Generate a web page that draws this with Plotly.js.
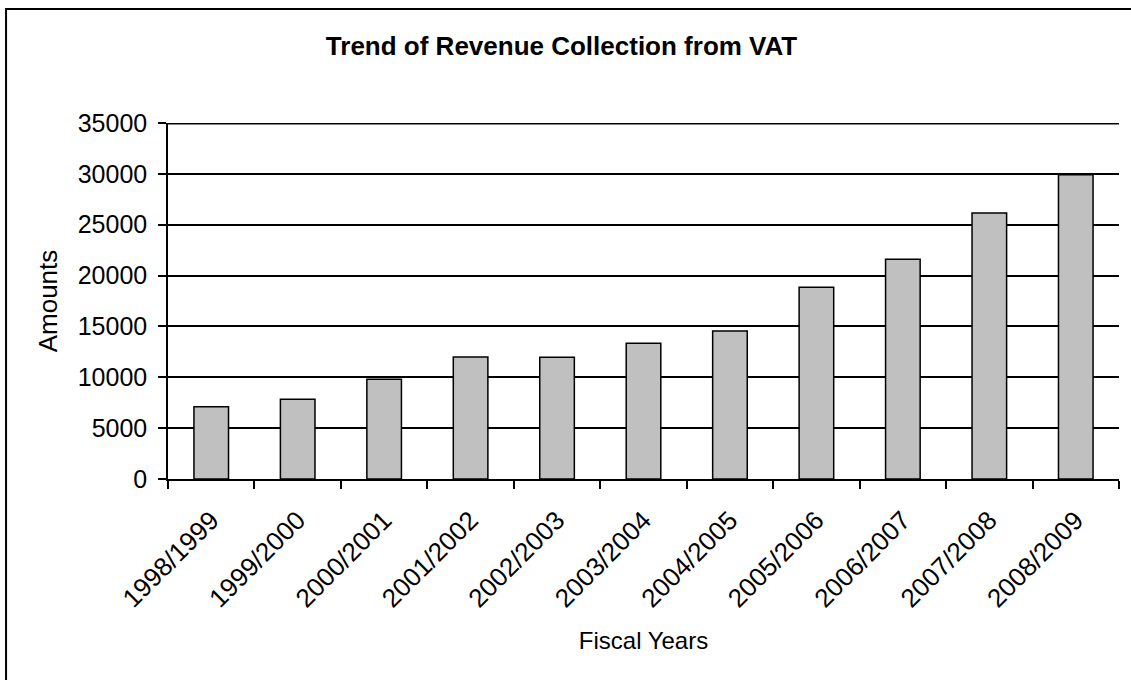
<!DOCTYPE html>
<html>
<head>
<meta charset="utf-8">
<script src="https://cdn.plot.ly/plotly-3.0.1.min.js"></script>
<style>
  html, body { margin: 0; padding: 0; background: #ffffff; }
  #chart { width: 1131px; height: 680px; }
</style>
</head>
<body>
<div id="chart"></div>
<script>
// Data
const fiscalYears = ["1998/1999", "1999/2000", "2000/2001", "2001/2002", "2002/2003",
                     "2003/2004", "2004/2005", "2005/2006", "2006/2007", "2007/2008", "2008/2009"];
const vatAmounts = [7100, 7850, 9800, 12000, 11980, 13350, 14550, 18850, 21600, 26150, 29900];
const yTickValues = [0, 5000, 10000, 15000, 20000, 25000, 30000, 35000];
const yMax = 35000;

const chartTitle = "Trend of Revenue Collection from VAT";
const xTitle = "Fiscal Years";
const yTitle = "Amounts";

const FONT = "Liberation Sans, Arial, sans-serif";

const trace = {
  type: "bar",
  x: fiscalYears,
  y: vatAmounts,
  marker: { color: "#c0c0c0", line: { color: "#000000", width: 1.5 } },
  hoverinfo: "x+y"
};

const layout = {
  width: 1131,
  height: 680,
  paper_bgcolor: "#ffffff",
  plot_bgcolor: "#ffffff",
  margin: { l: 168, r: 12, t: 123, b: 201, pad: 0 },
  showlegend: false,
  bargap: 0.6,
  font: { family: FONT, color: "#000000", size: 24 },
  title: {
    text: "<b>" + chartTitle + "</b>",
    font: { family: FONT, size: 26, color: "#000000" },
    x: 0.4965, xref: "container", xanchor: "center",
    y: 0.932, yref: "container", yanchor: "middle"
  },
  xaxis: {
    type: "category",
    tickangle: -45,
    tickson: "boundaries",
    ticks: "outside",
    ticklen: 8,
    tickwidth: 1.5,
    tickcolor: "#000000",
    showline: true,
    linecolor: "#000000",
    linewidth: 1.5,
    showgrid: false,
    zeroline: false,
    ticklabelstandoff: 14,
    tickfont: { family: FONT, size: 26, color: "#000000" },
    automargin: false,
    title: { text: xTitle, font: { family: FONT, size: 24, color: "#000000" }, standoff: 20 }
  },
  yaxis: {
    range: [0, yMax],
    tickvals: yTickValues,
    ticktext: yTickValues.map(String),
    ticks: "outside",
    ticklen: 8,
    tickwidth: 1.5,
    tickcolor: "#000000",
    showline: true,
    linecolor: "#000000",
    linewidth: 1.5,
    showgrid: true,
    gridcolor: "#000000",
    gridwidth: 1.5,
    zeroline: false,
    ticklabelstandoff: 6,
    tickfont: { family: FONT, size: 25, color: "#000000" },
    automargin: false,
    title: { text: yTitle, font: { family: FONT, size: 26, color: "#000000" }, standoff: 13 }
  },
  shapes: [
    // top gridline (Plotly hides the grid line lying on the plot edge)
    {
      type: "line", xref: "paper", yref: "y",
      x0: 0, x1: 1, y0: yMax, y1: yMax,
      line: { color: "#000000", width: 3 },
      layer: "below"
    },
    // chart-area frame
    {
      type: "rect", xref: "paper", yref: "paper",
      x0: -0.1703, x1: 1.03, y0: -0.62, y1: 1.320,
      line: { color: "#000000", width: 2 },
      fillcolor: "rgba(0,0,0,0)",
      layer: "above"
    }
  ]
};

Plotly.newPlot("chart", [trace], layout, { displayModeBar: false, responsive: false });
</script>
</body>
</html>
